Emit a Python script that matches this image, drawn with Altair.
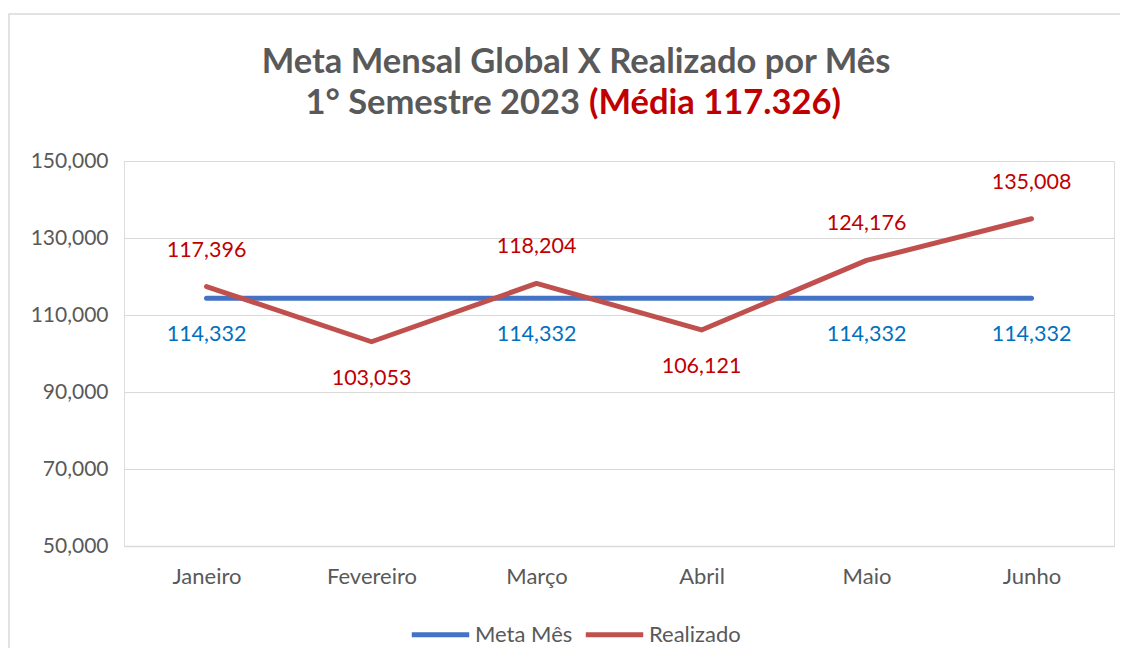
import altair as alt
import pandas as pd

months = ["Janeiro", "Fevereiro", "Março", "Abril", "Maio", "Junho"]
meta = [114332, 114332, 114332, 114332, 114332, 114332]
realizado = [117396, 103053, 118204, 106121, 124176, 135008]
series_names = ["Meta Mês", "Realizado"]
title_line1 = "Meta Mensal Global X Realizado por Mês"
title_line2_grey = "1° Semestre 2023"
title_line2_red = "(Média 117.326)"
y_ticks = [50000, 70000, 90000, 110000, 130000, 150000]

FONT = "Lato"
GREY = "#595959"
BLUE = "#4472c4"
RED = "#c0504d"

rows = []
for i, m in enumerate(months):
    rows.append({"mes": m, "serie": series_names[0], "valor": meta[i],
                 "acima": realizado[i] > meta[i]})
    rows.append({"mes": m, "serie": series_names[1], "valor": realizado[i],
                 "acima": realizado[i] > meta[i]})
df = pd.DataFrame(rows)

W, H = 990, 385

x_enc = alt.X("mes:N", sort=months, scale=alt.Scale(type="point", padding=0.5),
              axis=alt.Axis(title=None, labelAngle=0, labelFont=FONT, labelFontSize=22,
                            labelColor=GREY, ticks=False, domainColor="#d9d9d9",
                            domainWidth=1.5, labelPadding=20, grid=False))
y_enc = alt.Y("valor:Q", scale=alt.Scale(domain=[50000, 150000], nice=False, zero=False),
              axis=alt.Axis(title=None, values=y_ticks, format=",d", labelFont=FONT,
                            labelFontSize=21, labelColor=GREY, ticks=False, domain=False,
                            gridColor="#d9d9d9", gridWidth=1, labelPadding=16))

base = alt.Chart(df)

lines = base.mark_line(strokeWidth=5, strokeCap="round", strokeJoin="round").encode(
    x=x_enc, y=y_enc,
    color=alt.Color("serie:N", scale=alt.Scale(domain=series_names, range=[BLUE, RED]),
                    legend=alt.Legend(title=None, orient="none", direction="horizontal",
                                      legendX=285, legendY=442, symbolType="stroke",
                                      symbolSize=3300, symbolStrokeWidth=5,
                                      labelFont=FONT, labelFontSize=22, labelColor=GREY,
                                      columnPadding=2, labelOffset=3)),
)

meta_lbl = base.transform_filter(
    (alt.datum.serie == series_names[0]) & alt.datum.acima
).mark_text(font=FONT, fontSize=21.5, color="#0070c0", dy=37).encode(
    x=x_enc, y=y_enc, text=alt.Text("valor:Q", format=",d"))

real_up = base.transform_filter(
    (alt.datum.serie == series_names[1]) & alt.datum.acima
).mark_text(font=FONT, fontSize=21.5, color="#c00000", dy=-36).encode(
    x=x_enc, y=y_enc, text=alt.Text("valor:Q", format=",d"))

real_down = base.transform_filter(
    (alt.datum.serie == series_names[1]) & (~alt.datum.acima)
).mark_text(font=FONT, fontSize=21.5, color="#c00000", dy=37).encode(
    x=x_enc, y=y_enc, text=alt.Text("valor:Q", format=",d"))

one = alt.Chart(pd.DataFrame({"k": [0]}))
frame = one.mark_rect(filled=False, stroke="#d9d9d9", strokeWidth=1.5).encode(
    x=alt.value(-115), x2=alt.value(1200), y=alt.value(-147), y2=alt.value(700))
t1 = one.mark_text(text=title_line1, font=FONT, fontSize=34.5, fontWeight="bold",
                   color=GREY, align="center", baseline="alphabetic").encode(
    x=alt.value(452), y=alt.value(-88))
t2a = one.mark_text(text=title_line2_grey, font=FONT, fontSize=34.5, fontWeight="bold",
                    color=GREY, align="right", baseline="alphabetic").encode(
    x=alt.value(456), y=alt.value(-47))
t2b = one.mark_text(text=title_line2_red, font=FONT, fontSize=34.5, fontWeight="bold",
                    color="#c00000", align="left", baseline="alphabetic").encode(
    x=alt.value(465), y=alt.value(-47))

chart = alt.layer(frame, lines, meta_lbl, real_up, real_down, t1, t2a, t2b).properties(
    width=W, height=H,
    autosize=alt.AutoSizeParams(type="none"),
    padding={"left": 116, "top": 153, "right": 6, "bottom": 102},
).configure_view(fill="#f2f2f2", stroke=None).configure(background="white")

chart.save("out.html", embed_options={"renderer": "svg", "actions": False})
